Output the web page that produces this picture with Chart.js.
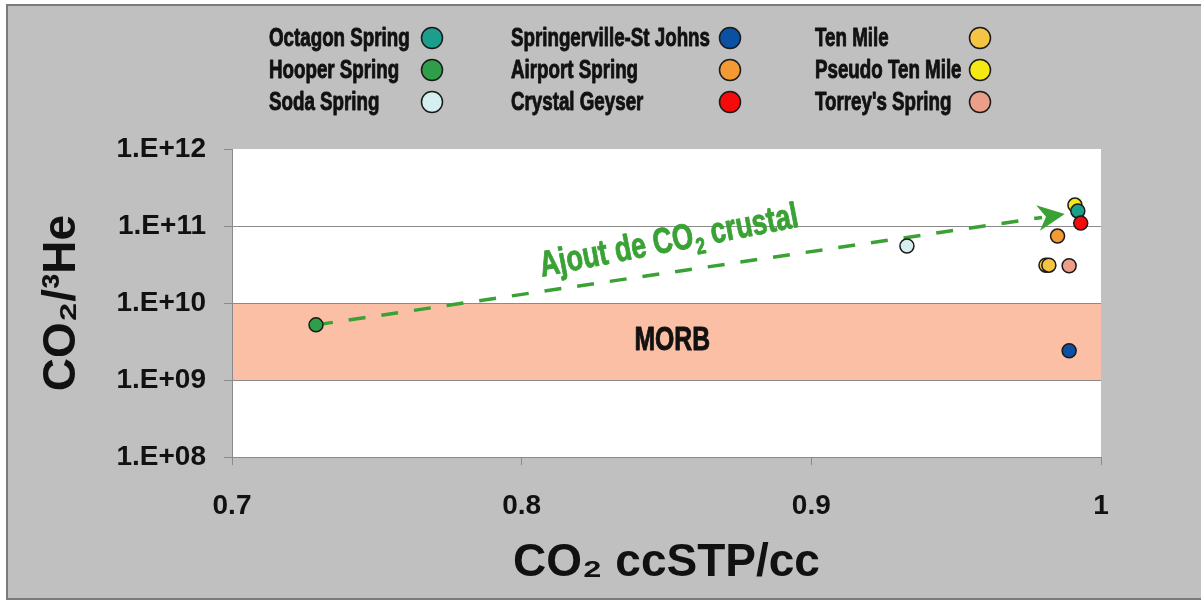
<!DOCTYPE html>
<html>
<head>
<meta charset="utf-8">
<script src="https://cdn.jsdelivr.net/npm/chart.js@4.4.1/dist/chart.umd.min.js"></script>
<style>
  html, body { margin: 0; padding: 0; background: #ffffff; }
  canvas { display: block; }
</style>
</head>
<body>
<canvas id="co2Chart" width="1201" height="601"></canvas>
<script>
// series (one or two samples per spring)
var seriesNames = ['Octagon Spring', 'Hooper Spring', 'Soda Spring',
                   'Springerville-St Johns', 'Airport Spring', 'Crystal Geyser',
                   'Ten Mile', 'Pseudo Ten Mile', "Torrey's Spring"];
var seriesColors = ['#1c9f8a', '#2f9e49', '#d7eef0',
                    '#0b50a2', '#f39a35', '#f60a0a',
                    '#f4c444', '#f6e812', '#eb9e88'];
var co2X = [[0.992], [0.729], [0.933],
            [0.989], [0.985], [0.993],
            [0.981, 0.982], [0.991], [0.989]];
var co2He3Y = [[1.57e11], [5.2e9], [5.5e10],
               [2.4e9], [7.4e10], [1.09e11],
               [3.1e10, 3.1e10], [1.87e11], [3.05e10]];

// axes
var xTickValues = [0.7, 0.8, 0.9, 1.0];
var xTickLabels = ['0.7', '0.8', '0.9', '1'];
var yTickValues = [1e8, 1e9, 1e10, 1e11, 1e12];
var yTickLabels = ['1.E+08', '1.E+09', '1.E+10', '1.E+11', '1.E+12'];

// annotations (data units)
var morbBand = [1e9, 1e10];
var morbLabelAt = [0.852, 3.2e9];
var arrowFrom = [0.729, 5.2e9];
var arrowTo = [0.9875, 1.43e11];
var arrowLabelAt = [0.807, 2.2e10];

var sansFont = '"Liberation Sans", Arial, sans-serif';
var gridGray = '#8a8a8a';

// no narrow font installed: squeeze Liberation Sans Bold horizontally
function narrowText(ctx, text, x, y, size, squeeze) {
  ctx.save();
  ctx.font = 'bold ' + size + 'px ' + sansFont;
  ctx.translate(x, y);
  ctx.scale(squeeze, 1);
  ctx.strokeStyle = ctx.fillStyle;
  ctx.lineWidth = 0.9;
  ctx.lineJoin = 'round';
  ctx.strokeText(text, 0, 0);
  ctx.fillText(text, 0, 0);
  var w = ctx.measureText(text).width * squeeze;
  ctx.restore();
  return w;
}

var datasets = seriesNames.map(function (name, i) {
  var pts = co2X[i].map(function (x, j) { return { x: x, y: co2He3Y[i][j] }; });
  var order = 5;
  if (name === 'Crystal Geyser') order = 1;
  if (name === 'Octagon Spring') order = 2;
  if (name === 'Pseudo Ten Mile') order = 3;
  return {
    label: name,
    data: pts,
    order: order,
    pointRadius: 7,
    pointBackgroundColor: seriesColors[i],
    pointBorderColor: '#1a1a1a',
    pointBorderWidth: 1.5,
    showLine: false
  };
});

// gray frame, white plot area and MORB band
var backgroundPlugin = {
  id: 'background',
  beforeDraw: function (chart) {
    var ctx = chart.ctx, a = chart.chartArea, ys = chart.scales.y;
    ctx.save();
    ctx.fillStyle = '#ffffff';
    ctx.fillRect(0, 0, chart.width, chart.height);
    ctx.fillStyle = '#c0c0c0';
    ctx.fillRect(6, 4, chart.width - 6, chart.height - 6);
    ctx.strokeStyle = '#7a7a7a';
    ctx.lineWidth = 2;
    ctx.strokeRect(7, 5, chart.width + 4, chart.height - 7);
    ctx.fillStyle = '#ffffff';
    ctx.fillRect(a.left, a.top, a.right - a.left, a.bottom - a.top);
    var top = ys.getPixelForValue(morbBand[1]);
    var bottom = ys.getPixelForValue(morbBand[0]);
    ctx.fillStyle = '#fbbfa6';
    ctx.fillRect(a.left, top, a.right - a.left, bottom - top);
    ctx.restore();
  }
};

// MORB label + dashed arrow with its caption
var annotationPlugin = {
  id: 'annotations',
  beforeDatasetsDraw: function (chart) {
    var ctx = chart.ctx, xs = chart.scales.x, ys = chart.scales.y;
    ctx.save();

    ctx.fillStyle = '#111111';
    ctx.textAlign = 'center';
    ctx.textBaseline = 'middle';
    narrowText(ctx, 'MORB', xs.getPixelForValue(morbLabelAt[0]), ys.getPixelForValue(morbLabelAt[1]), 33, 0.75);

    var x0 = xs.getPixelForValue(arrowFrom[0]), y0 = ys.getPixelForValue(arrowFrom[1]);
    var x1 = xs.getPixelForValue(arrowTo[0]), y1 = ys.getPixelForValue(arrowTo[1]);
    var ang = Math.atan2(y1 - y0, x1 - x0);
    var headLen = 27, headHalf = 13;
    var green = '#3aa135';
    ctx.strokeStyle = green;
    ctx.lineWidth = 3.5;
    ctx.setLineDash([17, 16]);
    ctx.beginPath();
    ctx.moveTo(x0, y0);
    ctx.lineTo(x1 - (headLen - 4) * Math.cos(ang), y1 - (headLen - 4) * Math.sin(ang));
    ctx.stroke();
    ctx.setLineDash([]);

    ctx.translate(x1, y1);
    ctx.rotate(ang);
    ctx.fillStyle = green;
    ctx.beginPath();
    ctx.moveTo(0, 0);
    ctx.lineTo(-headLen, -headHalf);
    ctx.lineTo(-headLen + 8, 0);
    ctx.lineTo(-headLen, headHalf);
    ctx.closePath();
    ctx.fill();
    ctx.setTransform(1, 0, 0, 1, 0, 0);

    // caption "Ajout de CO2 crustal" with a real subscript
    var lx = xs.getPixelForValue(arrowLabelAt[0]), ly = ys.getPixelForValue(arrowLabelAt[1]);
    ctx.translate(lx, ly);
    ctx.rotate(-11 * Math.PI / 180);
    ctx.textAlign = 'left';
    ctx.textBaseline = 'alphabetic';
    var cx = 0;
    cx += narrowText(ctx, 'Ajout de CO', cx, 0, 36, 0.75);
    cx += narrowText(ctx, '2', cx + 1, 8, 23, 0.75) + 1;
    narrowText(ctx, ' crustal', cx, 0, 36, 0.75);
    ctx.restore();
  }
};

// three column legend above the plot
var legendPlugin = {
  id: 'springLegend',
  afterDraw: function (chart) {
    var ctx = chart.ctx;
    var textX = [269, 511, 815], markX = [432, 730, 980], rowY = [38, 70, 102];
    ctx.save();
    ctx.textAlign = 'left';
    ctx.textBaseline = 'middle';
    chart.data.datasets.forEach(function (ds, i) {
      var col = Math.floor(i / 3), row = i % 3;
      ctx.fillStyle = '#111111';
      narrowText(ctx, ds.label, textX[col], rowY[row] + 1, 25, 0.75);
      ctx.beginPath();
      ctx.arc(markX[col], rowY[row], 10.5, 0, Math.PI * 2);
      ctx.fillStyle = ds.pointBackgroundColor;
      ctx.fill();
      ctx.lineWidth = 1.5;
      ctx.strokeStyle = '#1a1a1a';
      ctx.stroke();
    });
    ctx.restore();
  }
};

var tickFont = { family: sansFont, size: 28, weight: 'bold' };
var titleFont = { family: sansFont, size: 46, weight: 'bold' };

new Chart(document.getElementById('co2Chart').getContext('2d'), {
  type: 'scatter',
  data: { datasets: datasets },
  plugins: [backgroundPlugin, annotationPlugin, legendPlugin],
  options: {
    responsive: false,
    animation: false,
    events: [],
    layout: { padding: { left: 0, top: 149, right: 100, bottom: 0 } },
    plugins: {
      legend: { display: false },
      tooltip: { enabled: false }
    },
    scales: {
      x: {
        type: 'linear',
        min: 0.7,
        max: 1.0,
        afterBuildTicks: function (scale) {
          scale.ticks = xTickValues.map(function (v) { return { value: v }; });
        },
        afterFit: function (scale) { scale.height = 144; },
        ticks: {
          font: tickFont,
          color: '#111111',
          padding: 24,
          maxRotation: 0,
          callback: function (v, i) { return xTickLabels[i]; }
        },
        grid: { drawOnChartArea: false, color: gridGray, tickLength: 8, tickColor: gridGray },
        border: { color: gridGray, width: 1 },
        title: {
          display: true,
          text: 'CO\u2082 ccSTP/cc',
          font: titleFont,
          color: '#111111',
          padding: { top: 0, bottom: 10 }
        }
      },
      y: {
        type: 'logarithmic',
        min: 1e8,
        max: 1e12,
        afterBuildTicks: function (scale) {
          scale.ticks = yTickValues.map(function (v) { return { value: v }; });
        },
        afterFit: function (scale) { scale.width = 232; },
        ticks: {
          font: tickFont,
          color: '#111111',
          padding: 18,
          callback: function (v, i) { return yTickLabels[i]; }
        },
        grid: {
          color: function (c) { return c.tick && c.tick.value === 1e12 ? 'rgba(0,0,0,0)' : gridGray; },
          tickColor: gridGray,
          tickLength: 8,
          lineWidth: 1
        },
        border: { color: gridGray, width: 1 },
        title: {
          display: true,
          text: 'CO\u2082/\u00B3He',
          font: titleFont,
          color: '#111111',
          padding: { top: 35, bottom: 0 }
        }
      }
    }
  }
});
</script>
</body>
</html>
